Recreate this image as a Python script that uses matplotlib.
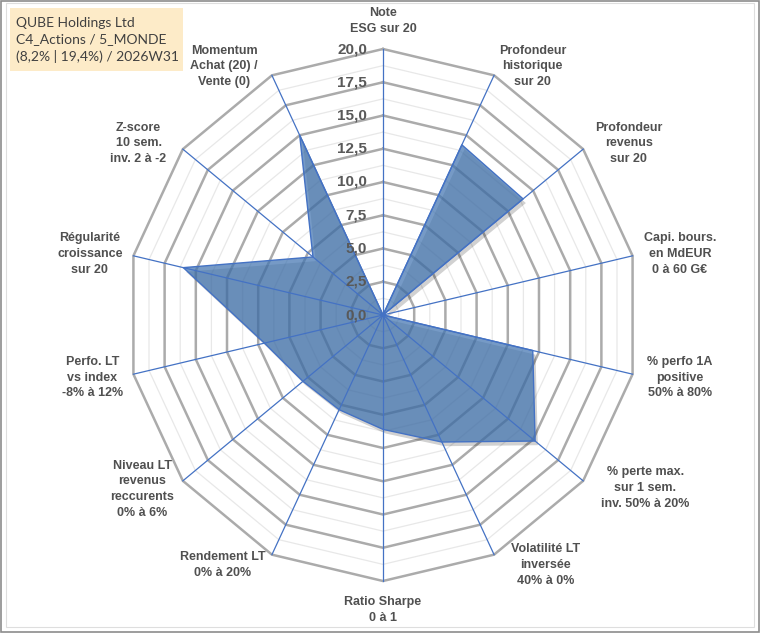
import numpy as np
import matplotlib
matplotlib.use("Agg")
import matplotlib.pyplot as plt
from matplotlib.patches import Rectangle, Polygon
import matplotlib.patheffects as pe

# ---------------- data ----------------
categories = [
    "Note\nESG sur 20",
    "Profondeur\nhistorique\nsur 20",
    "Profondeur\nrevenus\nsur 20",
    "Capi. bours.\nen MdEUR\n0 à 60 G€",
    "% perfo 1A\npositive\n50% à 80%",
    "% perte max.\nsur 1 sem.\ninv. 50% à 20%",
    "Volatilité LT\ninversée\n40% à 0%",
    "Ratio Sharpe\n0 à 1",
    "Rendement LT\n0% à 20%",
    "Niveau LT\nrevenus\nreccurents\n0% à 6%",
    "Perfo. LT\nvs index\n-8% à 12%",
    "Régularité\ncroissance\nsur 20",
    "Z-score\n10 sem.\ninv. 2 à -2",
    "Momentum\nAchat (20) /\nVente (0)",
]
values = [0.0, 14.2, 14.0, 0.0, 12.0, 15.2, 10.6, 8.6, 7.9, 8.0, 9.5, 16.0, 7.0, 15.0]
major_ticks = [0.0, 2.5, 5.0, 7.5, 10.0, 12.5, 15.0, 17.5, 20.0]
minor_ticks = [1.25, 3.75, 6.25, 8.75, 11.25, 13.75, 16.25, 18.75]
title_lines = ["QUBE Holdings Ltd", "C4_Actions / 5_MONDE", "(8,2% | 19,4%) / 2026W31"]

# label centres (layout, in data units)
label_pos = [(0, 22.1), (11.7, 18.7), (19.2, 12.9), (23.2, 4.6), (23.2, -4.7),
             (20.5, -13.0), (12.7, -18.8), (0, -22.2), (-12.5, -18.8),
             (-18.8, -13.1), (-22.7, -4.7), (-22.9, 4.6), (-19.1, 12.9),
             (-12.4, 18.7)]

# ---------------- figure ----------------
W, H = 760, 633
fig = plt.figure(figsize=(W / 100, H / 100), dpi=100)
fig.patch.set_facecolor("white")
ax = fig.add_axes([0, 0, 1, 1])
cx, cy = 383, 318      # centre in px from bottom-left
sx, sy = 12.8, 13.3    # px per unit
ax.set_xlim(-cx / sx, (W - cx) / sx)
ax.set_ylim(-cy / sy, (H - cy) / sy)
ax.axis("off")

n = len(categories)
theta = np.arange(n) * 2 * np.pi / n
sin_t, cos_t = np.sin(theta), np.cos(theta)

def ring(r):
    xs = np.append(r * sin_t, r * sin_t[0])
    ys = np.append(r * cos_t, r * cos_t[0])
    return xs, ys

for r in minor_ticks:
    xs, ys = ring(r)
    ax.plot(xs, ys, color="#E8E8E8", lw=0.9, zorder=1)
for r in major_ticks[1:]:
    xs, ys = ring(r)
    ax.plot(xs, ys, color="#ABABAB", lw=1.8, zorder=2, solid_joinstyle="miter")

# data polygon
vals = np.array(values)
pts = np.column_stack([vals * sin_t, vals * cos_t])
poly = Polygon(pts, closed=True, facecolor="#4174B0", alpha=0.72,
               edgecolor="none", zorder=3)
poly.set_path_effects([pe.SimplePatchShadow(offset=(2, -3), shadow_rgbFace="#000000",
                                            alpha=0.18), pe.Normal()])
ax.add_patch(poly)
ax.plot(np.append(pts[:, 0], pts[0, 0]), np.append(pts[:, 1], pts[0, 1]),
        color="#4472C4", lw=1.0, zorder=4)

# spokes
for s, c in zip(sin_t, cos_t):
    ax.plot([0, 20 * s], [0, 20 * c], color="#4472C4", lw=0.9, zorder=5)

# tick labels
for t in major_ticks:
    ax.text(-1.25, t, f"{t:.1f}".replace(".", ","), ha="right", va="center",
            fontsize=11, fontweight="bold", color="#595959",
            family="Liberation Sans", zorder=6)

# category labels
for lab, (lx, ly) in zip(categories, label_pos):
    ax.text(lx, ly, lab, ha="center", va="center", multialignment="center",
            fontsize=9, fontweight="bold", color="#505050",
            family="Liberation Sans", linespacing=1.42, zorder=6)

# title box
fig.patches.append(Rectangle((10 / W, 1 - 71 / H), 173 / W, 63 / H,
                             transform=fig.transFigure, facecolor="#FDEBC8",
                             edgecolor="none", zorder=0))
fig.text(16 / W, 1 - 40 / H, "\n".join(title_lines), ha="left", va="center",
         fontsize=10, color="#404040", family="Lato", linespacing=1.45)

# borders
fig.patches.append(Rectangle((1 / W, 1 / H), (W - 2) / W, (H - 2) / H,
                             transform=fig.transFigure, facecolor="none",
                             edgecolor="#8C8C8C", lw=1.2))
fig.patches.append(Rectangle((6 / W, 6 / H), (W - 12) / W, (H - 9) / H,
                             transform=fig.transFigure, facecolor="none",
                             edgecolor="#DEDEDE", lw=0.8))

fig.savefig("out.png", dpi=100, facecolor="white")
